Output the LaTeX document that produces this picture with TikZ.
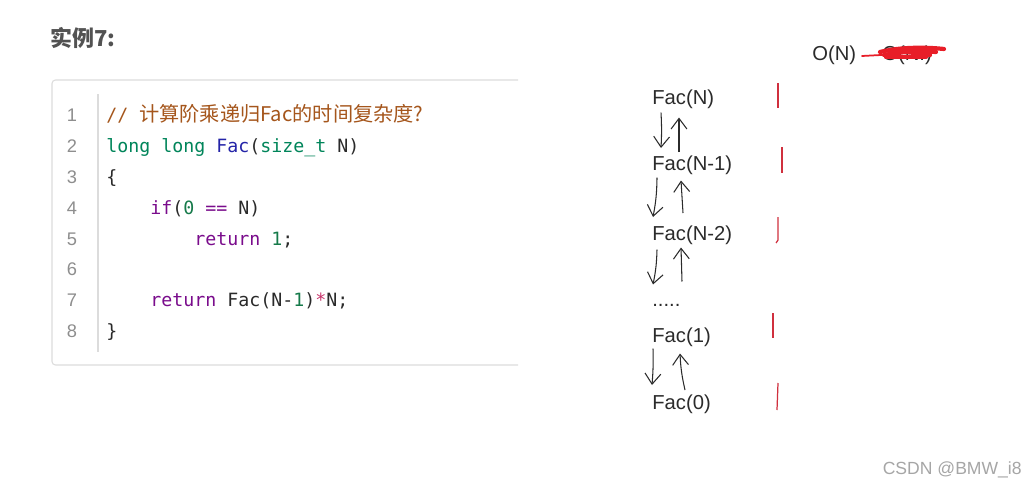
\documentclass[tikz,border=0pt]{standalone}
\usepackage{fontspec}
\setmainfont{Liberation Sans}
\setmonofont{DejaVu Sans Mono}
\newfontfamily\cjk{Noto Sans CJK SC}
\usetikzlibrary{positioning}
\usetikzlibrary{calc}
\usetikzlibrary{backgrounds}
\usetikzlibrary{arrows.meta}

\definecolor{codebg}{HTML}{F7F7F7}
\definecolor{codeframe}{HTML}{DCDCDC}
\definecolor{lnum}{HTML}{8E8E8E}
\definecolor{codeink}{HTML}{2A2A2A}
\definecolor{cmt}{HTML}{A5561C}
\definecolor{kwtype}{HTML}{00855A}
\definecolor{fnname}{HTML}{2424A8}
\definecolor{kwctl}{HTML}{7A0C8C}
\definecolor{numlit}{HTML}{167A4A}
\definecolor{oper}{HTML}{C8326A}
\definecolor{pen}{HTML}{2B2B2B}
\definecolor{inkred}{HTML}{E81E28}
\definecolor{tickred}{HTML}{D0303E}

\tikzset{
  lnumber/.style={anchor=base, inner sep=0, text=lnum, font=\fontsize{10.4}{12}\selectfont},
  codeline/.style={anchor=base west, inner sep=0, text=codeink, font=\fontsize{10.4}{12}\ttfamily},
  fac/.style={anchor=base west, inner sep=0, text=pen, font=\fontsize{11.5}{14}\selectfont},
  dnarrow/.style={draw=pen, line width=0.6pt, -{Straight Barb[length=6pt,width=9pt]}},
  uparrow/.style={draw=pen, line width=0.6pt, -{Straight Barb[length=6pt,width=9pt]}},
  redtick/.style={draw=tickred, line width=0.7pt},
  scribble/.style={draw=inkred, line cap=round, line width=2.4pt},
}

\begin{document}
\begin{tikzpicture}[x=0.02cm, y=-0.02cm]
%     \draw[help lines](0,0) grid (1027,490);
    \useasboundingbox[fill=white] (0,0) rectangle (1027,490);

    %%%% title %%%%

    \node[anchor=west, inner sep=0, text=black!68, font=\fontsize{12.5}{14}\cjk\bfseries] (title) at (50,38) {实例7:};

    %%%% code box %%%%

    \begin{scope}[on background layer]
    \fill[codebg] (52,80) rectangle (518,365);
    \end{scope}
    \draw[codeframe, line width=0.6pt, rounded corners=2pt] (518,80) -| (52,365) -- (518,365);
    \draw[codeframe, line width=1.1pt] (98,94) -- (98,352);

    \node[lnumber] (n1) at (72,121) {1};
    \node[lnumber] (n2) at (72,152) {2};
    \node[lnumber] (n3) at (72,183) {3};
    \node[lnumber] (n4) at (72,214) {4};
    \node[lnumber] (n5) at (72,245) {5};
    \node[lnumber] (n6) at (72,275) {6};
    \node[lnumber] (n7) at (72,306) {7};
    \node[lnumber] (n8) at (72,337) {8};

    \node[codeline] (L1) at (106,121) {\textcolor{cmt}{// {\fontsize{11.5}{14}\cjk 计算阶乘递归Fac的时间复杂度?}}};
    \node[codeline] (L2) at (106,152) {\textcolor{kwtype}{long long} \textcolor{fnname}{Fac}(\textcolor{kwtype}{size\_t} N)};
    \node[codeline] (L3) at (106,183) {\{};
    \node[codeline] (L4) at (150,214) {\textcolor{kwctl}{if}(\textcolor{numlit}{0} \textcolor{kwctl}{==} N)};
    \node[codeline] (L5) at (194,245) {\textcolor{kwctl}{return} \textcolor{numlit}{1};};
    \node[codeline] (L7) at (150,306) {\textcolor{kwctl}{return} Fac(N-\textcolor{numlit}{1})\textcolor{oper}{*}N;};
    \node[codeline] (L8) at (106,337) {\}};

    %%%% recursion chain %%%%

    \node[fac] (fN) at (652,104) {Fac(N)};
    \node[fac] (fN1) at (652,170) {Fac(N-1)};
    \node[fac] (fN2) at (652,240) {Fac(N-2)};
    \node[fac] (dots) at (652,306) {.....};
    \node[fac] (f1) at (652,342) {Fac(1)};
    \node[fac] (f0) at (652,409) {Fac(0)};

    \draw[dnarrow] ($(fN.south west)+(9,4)$) to[bend left=3] ($(fN1.north west)+(9,-7)$);
    \draw[uparrow] ($(fN1.north west)+(27,-3)$) to ($(fN.south west)+(27,9)$);

    \draw[dnarrow] ($(fN1.south west)+(5,3)$) to[bend left=5] ($(fN2.north west)+(1,-8)$);
    \draw[uparrow] ($(fN2.north west)+(31,-12)$) to ($(fN1.south west)+(29,6)$);

    \draw[dnarrow] ($(fN2.south west)+(5,5)$) to[bend left=5] ($(dots.north west)+(1,-19)$);
    \draw[uparrow] ($(dots.north west)+(30,-22)$) to ($(fN2.south west)+(29,3)$);

    \draw[dnarrow] ($(f1.south west)+(1,2)$) to[bend left=3] ($(f0.north west)+(0,-9)$);
    \draw[uparrow] ($(f0.north west)+(33,-4)$) to[bend left=5] ($(f1.south west)+(28,7)$);

    %%% red marks %%%

    \draw[redtick] (778,83) -- (778,108);
    \draw[redtick] (782,147) -- (782,173);
    \draw[redtick] (778,217) -- (778,240) -- (776,243);
    \draw[redtick] (773,313) -- (773,338);
    \draw[redtick] (778,383) -- (777,410);

    %%% complexity %%%

    \node[fac, anchor=west] (oN) at (812,55) {O(N)};
    \node[fac, anchor=west] (oNf) at (882,55) {O(N!)};

    \draw[scribble, line width=1pt] (862,56) -- (900,54);
    \draw[scribble] (880,52) .. controls (900,47) and (925,47) .. (944,49);
    \draw[scribble] (884,55) .. controls (905,51) and (925,51) .. (936,52);
    \draw[scribble] (890,50) -- (930,55);
    \draw[scribble] (886,57) -- (926,57);

    \node[anchor=east, inner sep=0, text=black!35, font=\fontsize{10}{12}\selectfont] (mark) at (1022,470) {CSDN @BMW\_i8};

\end{tikzpicture}
\end{document}
